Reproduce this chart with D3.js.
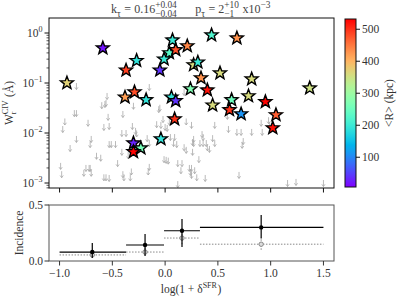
<!DOCTYPE html>
<html><head><meta charset="utf-8">
<script src="https://cdn.jsdelivr.net/npm/d3@7"></script>
<style>body{margin:0;background:#fff} svg{display:block} text{font-family:"Liberation Serif",serif}</style>
</head><body><svg id="c" width="399" height="299"></svg>
<script>
// ---- data ----
const starX=[-0.93,-0.59,-0.37,-0.27,-0.38,-0.29,-0.18,-0.05,0.07,0.04,-0.01,0.10,0.21,0.06,0.10,0.24,0.27,0.31,0.44,0.68,0.34,0.52,0.82,0.40,0.63,0.79,0.95,1.37,0.45,0.61,0.72,1.05,1.02,0.09,-0.04,-0.30,-0.23,-0.30];
const starW=[0.10,0.50,0.18,0.28,0.052,0.066,0.046,0.18,0.72,0.40,0.30,0.46,0.55,0.052,0.044,0.076,0.23,0.26,0.91,0.79,0.126,0.158,0.12,0.072,0.046,0.055,0.042,0.079,0.036,0.029,0.024,0.023,0.0126,0.019,0.0076,0.0063,0.0050,0.0042];
const starR=[370,20,490,190,420,480,190,40,200,230,200,480,440,190,40,270,360,200,220,430,430,360,360,520,250,360,530,350,360,500,110,470,520,500,190,30,260,530];
const limX=[-0.86,-0.84,-0.95,-0.97,-0.84,-0.90,-0.99,-0.98,-0.77,-0.75,-0.72,-0.71,-0.70,-0.73,-0.70,-0.71,-0.65,-0.61,-0.58,-0.56,-0.53,-0.60,-0.56,-0.54,-0.58,-0.53,-0.53,-0.51,-0.47,-0.40,-0.41,-0.37,-0.45,-0.40,-0.39,-0.33,-0.32,-0.35,-0.41,-0.31,-0.28,-0.27,-0.30,-0.17,-0.15,-0.15,-0.16,-0.06,-0.08,-0.04,-0.02,0.00,-0.01,0.01,0.03,0.05,0.09,0.08,0.11,0.12,0.16,0.15,0.18,0.20,0.23,0.24,0.12,0.02,0.04,0.20,0.26,0.25,0.27,0.27,0.35,0.36,0.33,0.36,0.39,0.40,0.42,0.45,0.47,0.47,0.26,0.32,0.25,0.28,0.25,0.30,0.38,0.60,0.68,0.72,0.59,0.82,0.91,0.92,0.74,0.73,0.70,1.16,1.24,1.50,0.98,0.99,-0.84,-0.15,-0.55,-0.57,0.18,-0.05,0.45];
const limW=[0.025,0.025,0.017,0.012,0.0076,0.0050,0.0022,0.0015,0.0016,0.0020,0.0020,0.0020,0.0016,0.016,0.0076,0.0060,0.0035,0.0032,0.0013,0.0013,0.00126,0.036,0.040,0.021,0.0132,0.0138,0.0060,0.0060,0.0060,0.024,0.010,0.010,0.0025,0.0015,0.0013,0.0013,0.0017,0.0036,0.0042,0.0138,0.011,0.0098,0.035,0.0079,0.0063,0.0021,0.0017,0.030,0.015,0.0145,0.019,0.0132,0.0030,0.0029,0.0028,0.0083,0.0083,0.0063,0.0060,0.0025,0.0025,0.0018,0.0052,0.0046,0.0020,0.00166,0.00095,0.0126,0.017,0.017,0.0066,0.0145,0.0076,0.0063,0.0095,0.0083,0.0063,0.0063,0.0063,0.0052,0.0048,0.0079,0.0063,0.0145,0.0042,0.0030,0.0020,0.0018,0.00145,0.0013,0.00126,0.012,0.0105,0.0105,0.022,0.0105,0.016,0.0105,0.0069,0.0058,0.00145,0.0010,0.00105,0.0010,0.018,0.0145,0.087,0.083,0.055,0.038,0.066,0.032,0.046];
const binLo=[-1.0,-0.37,-0.01,0.33];
const binHi=[-0.37,-0.01,0.33,1.5];
const detX=[-0.69,-0.19,0.16,0.91];
const detF=[0.08,0.143,0.27,0.30];
const detLo=[0.027,0.045,0.125,0.20];
const detHi=[0.16,0.24,0.375,0.41];
const altF=[0.054,0.08,0.205,0.15];
const altLo=[0.03,0.05,0.15,0.10];
const altHi=[0.09,0.12,0.27,0.21];
const xTicks=[-1,-0.5,0,0.5,1,1.5];
const xTickLabels=["\u22121.0","\u22120.5","0.0","0.5","1.0","1.5"];
const yExp=[-3,-2,-1,0];
const yTickLabelsExp=["\u22123","\u22122","\u22121","0"];
const incTicks=[0,0.5];
const incTickLabels=["0.0","0.5"];
const cbTicks=[100,200,300,400,500];

// ---- helpers ----
function rainbow(t){t=Math.max(0,Math.min(1,t));
  const r=Math.min(1,Math.abs(2*t-0.5)),g=Math.sin(Math.PI*t),b=Math.cos(Math.PI*t/2);
  return d3.rgb(r*255,g*255,b*255).formatHex();}
const svg=d3.select('#c');
function rich(parent,segs,x,y,anchor,rot,fill,fs,smr){
  const g=parent.append('g');let cx=0;const sm=fs*(smr||0.7);
  segs.forEach(s=>{
    if(s.sup!==undefined||s.sub!==undefined){let w=0;
      if(s.sup!==undefined){const t=g.append('text').attr('x',cx).attr('y',-fs*0.42).style('font-size',sm+'px').attr('fill',fill).text(s.sup);w=Math.max(w,t.node().getComputedTextLength());}
      if(s.sub!==undefined){const t=g.append('text').attr('x',cx).attr('y',fs*0.3).style('font-size',sm+'px').attr('fill',fill).text(s.sub);w=Math.max(w,t.node().getComputedTextLength());}
      cx+=w+0.5;
    } else {const t=g.append('text').attr('x',cx).attr('y',0).style('font-size',fs+'px').attr('fill',fill).attr('xml:space','preserve').style('white-space','pre').text(s.t);cx+=t.node().getComputedTextLength();}
  });
  const off=anchor==='middle'?-cx/2:anchor==='end'?-cx:0;
  g.attr('transform',`translate(${x},${y}) rotate(${rot||0}) translate(${off},0)`);
  return g;}

const L=49,R=334,T1=18,B1=188,T2=205,B2=261;
const x=d3.scaleLinear().domain([-1.1,1.6]).range([L,R]);
const y=d3.scaleLog().domain([Math.pow(10,-3.1),Math.pow(10,0.3)]).range([B1,T1]);
const yi=d3.scaleLinear().domain([0,0.5]).range([B2,T2]);
const cmin=7,cmax=532;
const cbX0=345,cbX1=356,cbT=19,cbB=187;
const cy=d3.scaleLinear().domain([cmin,cmax]).range([cbB,cbT]);
const col=v=>rainbow((v-cmin)/(cmax-cmin));
const txt='#333',fs=11.5;

// ---- top panel ----
svg.append('defs').append('clipPath').attr('id','cp1').append('rect').attr('x',L).attr('y',T1).attr('width',R-L).attr('height',B1-T1);
const lim=svg.append('g').attr('clip-path','url(#cp1)');
limX.forEach((v,i)=>{const px=x(v),py=y(limW[i]);
  lim.append('path').attr('d',`M${px},${py-3}V${py+3.5}M${px-1.6},${py+1.3}L${px},${py+3.5}L${px+1.6},${py+1.3}`)
   .attr('fill','none').attr('stroke','#a8a8a8').attr('stroke-width',0.8);});
function starPath(r){const ri=r*0.42;let p='';for(let k=0;k<10;k++){const a=-Math.PI/2+k*Math.PI/5;const rr=k%2?ri:r;p+=(k?'L':'M')+(rr*Math.cos(a)).toFixed(2)+','+(rr*Math.sin(a)).toFixed(2);}return p+'Z';}
const sp=starPath(6.8);
starX.forEach((v,i)=>{svg.append('path').attr('d',sp).attr('transform',`translate(${x(v)},${y(starW[i])})`)
  .attr('fill',col(starR[i])).attr('stroke','#000').attr('stroke-width',1.4).attr('stroke-linejoin','miter');});
svg.append('rect').attr('x',L).attr('y',T1).attr('width',R-L).attr('height',B1-T1).attr('fill','none').attr('stroke','#111').attr('stroke-width',1);
xTicks.forEach(v=>{svg.append('line').attr('x1',x(v)).attr('x2',x(v)).attr('y1',B1).attr('y2',B1+4.5).attr('stroke','#111');});
for(let d=-4;d<=0;d++){for(let k=1;k<=9;k++){const v=k*Math.pow(10,d);if(v<y.domain()[0]||v>y.domain()[1])continue;
  svg.append('line').attr('x1',L).attr('x2',L-(k===1?4.5:2.5)).attr('y1',y(v)).attr('y2',y(v)).attr('stroke','#111').attr('stroke-width',k===1?1:0.7);}}
yExp.forEach((e,i)=>{rich(svg,[{t:'10'},{sup:yTickLabelsExp[i]}],L-6,y(Math.pow(10,e))+4,'end',0,txt,fs);});
rich(svg,[{t:'W'},{sup:'CIV',sub:'r'},{t:' (\u00c5)'}],13,(T1+B1)/2,'middle',-90,txt,fs);
// title
rich(svg,[{t:'k'},{sub:'\u03c4'},{t:' = 0.16'},{sup:'+0.04',sub:'\u22120.04'},{t:'      p'},{sub:'\u03c4'},{t:' = 2'},{sup:'+10',sub:'\u22121'},{t:' x10'},{sup:'\u22123'}],191,13,'middle',0,'#444',12,0.78);

// colorbar
const grad=svg.select('defs').append('linearGradient').attr('id','cbg').attr('x1',0).attr('x2',0).attr('y1',1).attr('y2',0);
for(let k=0;k<=40;k++){grad.append('stop').attr('offset',k/40).attr('stop-color',rainbow(k/40));}
svg.append('rect').attr('x',cbX0).attr('y',cbT).attr('width',cbX1-cbX0).attr('height',cbB-cbT).attr('fill','url(#cbg)').attr('stroke','#111').attr('stroke-width',1);
cbTicks.forEach(v=>{svg.append('line').attr('x1',cbX1).attr('x2',cbX1+4).attr('y1',cy(v)).attr('y2',cy(v)).attr('stroke','#111');
  svg.append('text').attr('x',cbX1+6).attr('y',cy(v)+4).style('font-size',fs+'px').attr('fill',txt).text(v);});
rich(svg,[{t:'<R> (kpc)'}],393,(cbT+cbB)/2,'middle',-90,txt,fs);

// ---- bottom panel ----
const bp=svg.append('g');
for(let i=0;i<binLo.length;i++){
  bp.append('line').attr('x1',x(binLo[i])).attr('x2',x(binHi[i])).attr('y1',yi(altF[i])).attr('y2',yi(altF[i])).attr('stroke','#888').attr('stroke-width',1).attr('stroke-dasharray','1.5,1.5');
  bp.append('line').attr('x1',x(detX[i])).attr('x2',x(detX[i])).attr('y1',yi(altLo[i])).attr('y2',yi(altHi[i])).attr('stroke','#888').attr('stroke-width',1).attr('stroke-dasharray','1.5,1.5');
  bp.append('circle').attr('cx',x(detX[i])).attr('cy',yi(altF[i])).attr('r',2.2).attr('fill','#ddd').attr('stroke','#888').attr('stroke-width',1);
  bp.append('line').attr('x1',x(binLo[i])).attr('x2',x(binHi[i])).attr('y1',yi(detF[i])).attr('y2',yi(detF[i])).attr('stroke','#000').attr('stroke-width',1.2);
  bp.append('line').attr('x1',x(detX[i])).attr('x2',x(detX[i])).attr('y1',yi(detLo[i])).attr('y2',yi(detHi[i])).attr('stroke','#000').attr('stroke-width',1.2);
  bp.append('circle').attr('cx',x(detX[i])).attr('cy',yi(detF[i])).attr('r',2.2).attr('fill','#000');
}
svg.append('rect').attr('x',L).attr('y',T2).attr('width',R-L).attr('height',B2-T2).attr('fill','none').attr('stroke','#555').attr('stroke-width',1);
xTicks.forEach((v,i)=>{svg.append('line').attr('x1',x(v)).attr('x2',x(v)).attr('y1',B2).attr('y2',B2+4.5).attr('stroke','#333');
  svg.append('text').attr('x',x(v)).attr('y',B2+16).attr('text-anchor','middle').style('font-size',fs+'px').attr('fill',txt).text(xTickLabels[i]);});
incTicks.forEach((v,i)=>{svg.append('line').attr('x1',L).attr('x2',L-4.5).attr('y1',yi(v)).attr('y2',yi(v)).attr('stroke','#333');
  svg.append('text').attr('x',L-6).attr('y',yi(v)+4).attr('text-anchor','end').style('font-size',fs+'px').attr('fill',txt).text(incTickLabels[i]);});
rich(svg,[{t:'Incidence'}],23,(T2+B2)/2,'middle',-90,txt,fs);
rich(svg,[{t:'log(1 + \u03b4'},{sup:'SFR'},{t:')'}],191,293,'middle',0,txt,fs);
</script></body></html>
